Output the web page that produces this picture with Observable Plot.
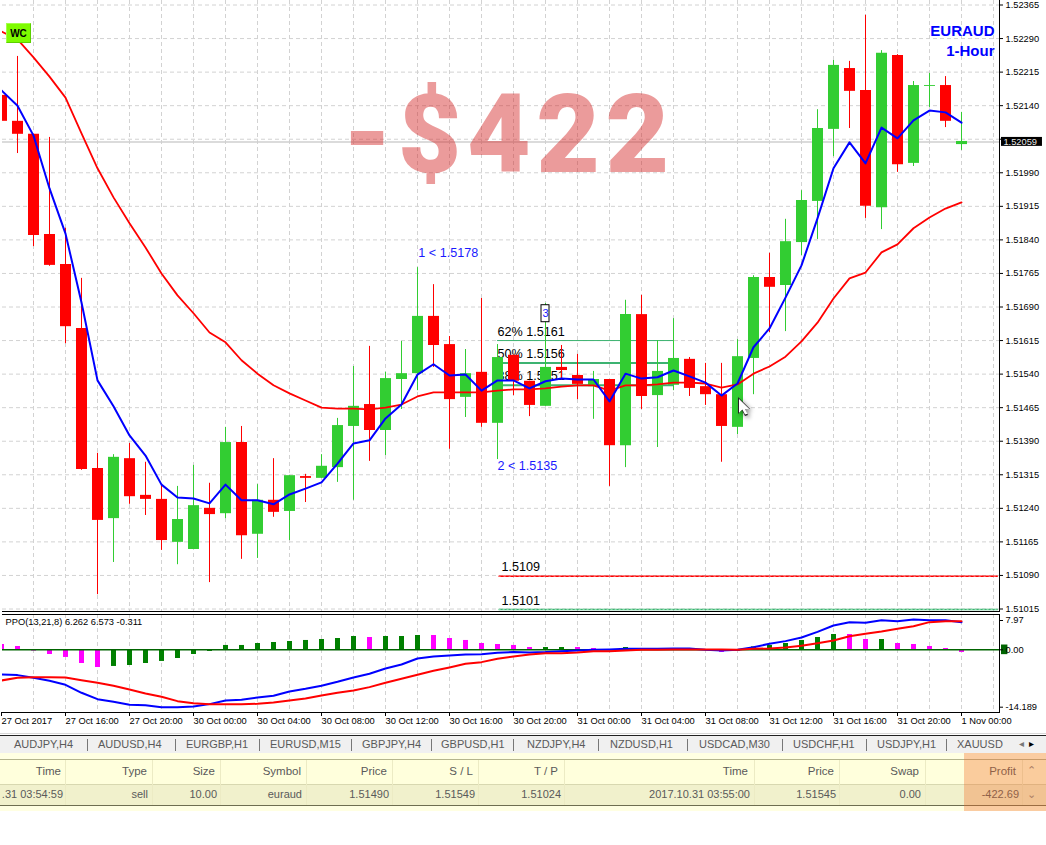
<!DOCTYPE html>
<html><head><meta charset="utf-8">
<script src="https://cdn.jsdelivr.net/npm/d3@7"></script>
<script src="https://cdn.jsdelivr.net/npm/@observablehq/plot@0.6"></script>
<style>
html,body{margin:0;padding:0;background:#fff;}
#page{position:relative;width:1046px;height:845px;overflow:hidden;font-family:"Liberation Sans",sans-serif;}
#page svg{display:block;background:transparent;overflow:visible;}
.abs{position:absolute;white-space:nowrap;}
.loss text{letter-spacing:5.5px;}
</style></head><body><div id="page">
<div id="main"></div><div id="ind"></div>
</div>
<script>
const open=[1.52163,1.52105,1.52076,1.51852,1.51785,1.51642,1.51329,1.51217,1.51351,1.51269,1.51260,1.51164,1.51148,1.51240,1.51228,1.51387,1.51182,1.51258,1.51233,1.51311,1.51307,1.51331,1.51423,1.51472,1.51414,1.51528,1.51541,1.51669,1.51606,1.51488,1.51544,1.51430,1.51582,1.51524,1.51468,1.51555,1.51537,1.51512,1.51528,1.51380,1.51673,1.51492,1.51515,1.51573,1.51512,1.51494,1.51421,1.51575,1.51756,1.51738,1.51834,1.51926,1.52087,1.52223,1.52174,1.51912,1.52252,1.52011,1.52183,1.52185,1.52053];
const close=[1.52105,1.52076,1.51850,1.51783,1.51646,1.51327,1.51213,1.51354,1.51266,1.51260,1.51168,1.51215,1.51246,1.51226,1.51387,1.51179,1.51258,1.51231,1.51313,1.51307,1.51334,1.51425,1.51468,1.51414,1.51530,1.51541,1.51669,1.51604,1.51483,1.51541,1.51430,1.51577,1.51524,1.51470,1.51555,1.51548,1.51517,1.51528,1.51380,1.51673,1.51490,1.51546,1.51575,1.51508,1.51494,1.51423,1.51579,1.51756,1.51734,1.51836,1.51928,1.52089,1.52230,1.52172,1.51915,1.52257,1.52008,1.52185,1.52185,1.52105,1.52060];
const high=[1.52163,1.52250,1.52076,1.52069,1.51866,1.51754,1.51363,1.51360,1.51385,1.51343,1.51291,1.51289,1.51336,1.51296,1.51421,1.51423,1.51293,1.51351,1.51313,1.51316,1.51360,1.51441,1.51557,1.51602,1.51544,1.51613,1.51778,1.51740,1.51624,1.51595,1.51709,1.51606,1.51582,1.51524,1.51698,1.51604,1.51584,1.51546,1.51528,1.51705,1.51716,1.51615,1.51664,1.51577,1.51564,1.51564,1.51617,1.51760,1.51810,1.51886,1.51950,1.52131,1.52241,1.52239,1.52342,1.52263,1.52254,1.52194,1.52212,1.52205,1.52125];
const low=[1.52105,1.52033,1.51825,1.51781,1.51608,1.51325,1.51047,1.51119,1.51249,1.51224,1.51146,1.51114,1.51148,1.51074,1.51217,1.51126,1.51128,1.51220,1.51168,1.51253,1.51307,1.51298,1.51258,1.51345,1.51358,1.51461,1.51503,1.51555,1.51372,1.51443,1.51421,1.51349,1.51492,1.51445,1.51468,1.51526,1.51483,1.51439,1.51289,1.51331,1.51461,1.51376,1.51503,1.51490,1.51470,1.51343,1.51405,1.51494,1.51633,1.51635,1.51805,1.51841,1.52026,1.52089,1.51888,1.51863,1.51991,1.52004,1.52136,1.52091,1.52040];
const fastMA=[1.52174,1.52140,1.52073,1.51955,1.51854,1.51700,1.51526,1.51468,1.51403,1.51358,1.51293,1.51264,1.51262,1.51251,1.51293,1.51258,1.51258,1.51249,1.51271,1.51284,1.51298,1.51340,1.51385,1.51392,1.51441,1.51472,1.51539,1.51562,1.51537,1.51539,1.51503,1.51526,1.51526,1.51508,1.51524,1.51530,1.51528,1.51528,1.51479,1.51541,1.51530,1.51533,1.51548,1.51535,1.51521,1.51492,1.51519,1.51600,1.51642,1.51711,1.51783,1.51888,1.52000,1.52058,1.52011,1.52091,1.52067,1.52107,1.52129,1.52125,1.52102];
const slowMA=[1.52306,1.52288,1.52248,1.52205,1.52158,1.52078,1.52000,1.51935,1.51877,1.51823,1.51765,1.51716,1.51676,1.51633,1.51611,1.51571,1.51541,1.51515,1.51497,1.51481,1.51465,1.51463,1.51463,1.51461,1.51465,1.51472,1.51490,1.51499,1.51499,1.51499,1.51499,1.51503,1.51506,1.51506,1.51508,1.51512,1.51515,1.51515,1.51503,1.51515,1.51515,1.51517,1.51521,1.51521,1.51519,1.51510,1.51517,1.51541,1.51557,1.51579,1.51613,1.51655,1.51709,1.51754,1.51767,1.51812,1.51830,1.51866,1.51890,1.51910,1.51924];
const ppoHist=[1.45,0.9,-0.33,-1.16,-1.89,-3.38,-4.37,-4.12,-3.88,-3.38,-2.88,-2.15,-1.16,-0.41,1.18,1.18,1.72,1.99,2.26,2.54,2.81,3.08,3.62,3.35,3.62,3.62,3.89,3.89,3.08,2.54,1.72,1.45,1.18,0.63,0.63,0.63,0.63,0.36,-0.1,0.63,0.36,0.36,0.2,0.1,-0.1,-0.66,-0.33,0.8,1.18,1.72,2.54,3.35,4.17,4.17,2.81,2.81,1.72,1.45,0.9,0.36,-0.66];
const histMagenta=[0,1,2,3,4,5,6,23,27,28,29,30,31,32,33,36,37,38,40,44,45,53,54,56,57,58,59,60];
const ppoLine=[-6.10,-6.26,-6.93,-7.66,-8.65,-10.63,-12.20,-12.86,-13.60,-13.69,-14.18,-14.18,-14.01,-13.43,-12.53,-12.37,-11.78,-11.38,-10.30,-9.65,-8.90,-7.92,-6.84,-5.93,-4.61,-3.63,-2.15,-1.65,-1.40,-1.16,-1.07,-0.75,-0.57,-0.66,-0.57,-0.33,-0.16,0,0.09,0.27,0.27,0.27,0.36,0.36,0,-0.16,0,0.72,1.63,2.36,3.35,4.89,6.61,7.52,7.34,8.06,7.79,8.24,8.06,8.06,7.52];
const ppoSignal=[-7.58,-6.93,-6.76,-6.76,-6.84,-7.50,-8.16,-8.90,-9.81,-10.80,-11.62,-12.69,-13.19,-13.43,-13.43,-13.43,-13.35,-13.02,-12.53,-12.03,-11.29,-10.63,-10.06,-9.23,-8.16,-7.17,-6.18,-5.20,-4.37,-3.46,-3.05,-2.23,-1.65,-1.16,-0.83,-0.83,-0.66,-0.33,-0.33,-0.16,0,0,0.09,0.09,0.09,0.09,0,0.27,0.36,0.63,1.09,1.81,2.54,3.71,4.35,4.98,5.71,6.43,7.52,7.79,7.79];
const priceTicks=[1.52365,1.52290,1.52215,1.52140,1.52065,1.51990,1.51915,1.51840,1.51765,1.51690,1.51615,1.51540,1.51465,1.51390,1.51315,1.51240,1.51165,1.51090,1.51015];
const gridBars=[2,4,6,8,10,12,14,16,18,20,22,24,26,28,30,32,34,36,38,40,42,44,46,48,50,52,54,56,58,60,62];
const timeBars=[0,4,8,12,16,20,24,28,32,36,40,44,48,52,56,60];
const timeLabels=["27 Oct 2017","27 Oct 16:00","27 Oct 20:00","30 Oct 00:00","30 Oct 04:00","30 Oct 08:00","30 Oct 12:00","30 Oct 16:00","30 Oct 20:00","31 Oct 00:00","31 Oct 04:00","31 Oct 08:00","31 Oct 12:00","31 Oct 16:00","31 Oct 20:00","1 Nov 00:00"];
const ppoTicks=[7.97,0,-14.189];
const lastPrice=1.52059;
const fibLevels=[1.51615,1.51565,1.51515];
const fibWidths=[1,2,2];
const fibLabels=["62% 1.5161","50% 1.5156","38% 1.5151"];
const fibLabelPrices=[1.51635,1.51584,1.51537];
const stopLines=[1.51088,1.51014];
const stopLabels=["1.5109","1.5101"];
const stopLabelPrices=[1.51108,1.51034];
const tabs=["AUDJPY,H4","AUDUSD,H4","EURGBP,H1","EURUSD,M15","GBPJPY,H4","GBPUSD,H1","NZDJPY,H4","NZDUSD,H1","USDCAD,M30","USDCHF,H1","USDJPY,H1","XAUUSD."];
const headers=["Time","Type","Size","Symbol","Price","S / L","T / P","Time","Price","Swap","Profit"];
const row=[".31 03:54:59","sell","10.00","euraud","1.51490","1.51549","1.51024","2017.10.31 03:55:00","1.51545","0.00","-422.69"];

const candles=open.map((o,k)=>({i:k,o,c:close[k],h:high[k],l:low[k]}));
const RED="#ff0000",GREEN="#32cd32",FIB="#3cb371",GRID="#d2d2d2";
const bars=open.map((_,k)=>k);
const upC=candles.filter(d=>d.c>=d.o),dnC=candles.filter(d=>d.c<d.o);
const FONT="'Liberation Sans',sans-serif";

const main=Plot.plot({
  width:1046,height:612,marginLeft:2,marginRight:47,marginTop:0,marginBottom:1,
  style:{fontFamily:FONT,fontSize:"9.3px",background:"transparent",color:"#000",overflow:"visible"},
  x:{type:"linear",domain:[0,60],range:[1,961],axis:null},
  y:{type:"linear",domain:[1.52365,1.51015],range:[4.5,608.5],axis:null},
  marks:[
    Plot.ruleY(priceTicks,{stroke:GRID,strokeDasharray:"4,3",strokeWidth:1}),
    Plot.ruleX(gridBars,{stroke:GRID,strokeDasharray:"4,3",strokeWidth:1}),
    Plot.ruleY([lastPrice],{stroke:"#cfcfcf",strokeWidth:1.5}),
    Plot.ruleY(fibLevels,{x1:31,x2:42,stroke:FIB,strokeWidth:(_,k)=>fibWidths[k]}),
    Plot.text(fibLabels,{x:()=>31,y:(_,k)=>fibLabelPrices[k],text:d=>d,textAnchor:"start",fontSize:12.6,fill:"#000"}),
    Plot.ruleY([stopLines[0]],{x1:31.1,x2:62.3,stroke:RED,strokeWidth:1.5,clip:true}),
    Plot.ruleY([stopLines[0]],{x1:31.1,x2:62.3,stroke:"#ff7070",strokeWidth:1,strokeDasharray:"2,3",clip:true}),
    Plot.ruleY([stopLines[1]],{x1:31.1,x2:62.3,stroke:FIB,strokeWidth:1.5,clip:true}),
    Plot.ruleY([stopLines[1]],{x1:31.1,x2:62.3,stroke:"#8fdcb0",strokeWidth:1,strokeDasharray:"2,2",clip:true}),
    Plot.text(stopLabels,{x:()=>31.25,y:(_,k)=>stopLabelPrices[k],text:d=>d,textAnchor:"start",fontSize:12.6,fill:"#000"}),
    Plot.ruleX(upC,{x:"i",y1:"l",y2:"h",stroke:GREEN,strokeWidth:1,clip:true}),
    Plot.ruleX(dnC,{x:"i",y1:"l",y2:"h",stroke:RED,strokeWidth:1,clip:true}),
    Plot.ruleX(upC,{x:"i",y1:"o",y2:"c",stroke:GREEN,strokeWidth:11,clip:true}),
    Plot.ruleX(dnC,{x:"i",y1:"o",y2:"c",stroke:RED,strokeWidth:11,clip:true}),
    Plot.line(bars,{x:d=>d,y:d=>slowMA[d],stroke:RED,strokeWidth:1.8,clip:true}),
    Plot.line(bars,{x:d=>d,y:d=>fastMA[d],stroke:"#0000ff",strokeWidth:2,clip:true}),
    Plot.text(["1 < 1.5178"],{x:()=>26.05,y:()=>1.51810,text:d=>d,textAnchor:"start",fontSize:12.6,fill:"#1a1aff"}),
    Plot.text(["2 < 1.5135"],{x:()=>31,y:()=>1.51334,text:d=>d,textAnchor:"start",fontSize:12.6,fill:"#1a1aff"}),
    Plot.rect(["box"],{x1:()=>33.75,x2:()=>34.25,y1:()=>1.51694,y2:()=>1.51656,fill:"#fff",stroke:"#000",strokeWidth:1}),
    Plot.text(["3"],{x:()=>34,y:()=>1.51675,text:d=>d,fontSize:11,fill:"#1a1aff"}),
    Plot.text(["-$422"],{x:()=>31.7,y:()=>1.52071,text:d=>d,fontSize:110,fontWeight:900,fontFamily:"Roboto",fill:"#d42a2a",fillOpacity:.47,className:"loss"}),
    Plot.text(["EURAUD\n1-Hour"],{frameAnchor:"top-right",dx:-5,dy:22,text:d=>d,textAnchor:"end",lineAnchor:"top",lineHeight:1.3,fontSize:15,fontWeight:700,fill:"#0000ff"}),
    Plot.axisY(priceTicks,{anchor:"right",tickSize:3,tickPadding:3,tickFormat:d=>d===1.52065?"":d3.format(".5f")(d),label:null,stroke:"#000"}),
    Plot.frame({anchor:"right",stroke:"#000"}),
    Plot.frame({anchor:"bottom",stroke:"#000"}),
    Plot.rect(["last"],{x1:()=>62.5,x2:()=>65.06,y1:()=>1.52069,y2:()=>1.52049,fill:"#000"}),
    Plot.text([lastPrice],{x:()=>62.62,y:d=>d,text:d=>d.toFixed(5),textAnchor:"start",fill:"#e8e8e8"})
  ]});
document.getElementById("main").append(main);

const ind=Plot.plot({
  width:1046,height:124,marginLeft:2,marginRight:47,marginTop:2,marginBottom:24,
  style:{fontFamily:FONT,fontSize:"9.3px",background:"transparent",color:"#000",overflow:"visible"},
  x:{type:"linear",domain:[0,60],range:[1,961],axis:null},
  y:{type:"linear",domain:[7.97,0,-14.189],range:[8,37.3,94.7],axis:null},
  marks:[
    Plot.ruleX(gridBars,{stroke:GRID,strokeDasharray:"4,3",strokeWidth:1}),
    Plot.ruleX(bars,{x:d=>d,y1:0,y2:d=>ppoHist[d],stroke:d=>histMagenta.includes(d)?"#ff00ff":"#008000",strokeWidth:5,clip:true}),
    Plot.ruleY([0],{stroke:"#006400",strokeWidth:1.5}),
    Plot.line(bars,{x:d=>d,y:d=>ppoLine[d],stroke:"#0000ff",strokeWidth:2,clip:true}),
    Plot.line(bars,{x:d=>d,y:d=>ppoSignal[d],stroke:RED,strokeWidth:2,clip:true}),
    Plot.text(["PPO(13,21,8) 6.262 6.573 -0.311"],{frameAnchor:"top-left",dx:3,dy:4,text:d=>d,textAnchor:"start",lineAnchor:"top",fill:"#000"}),
    Plot.rect(["zero"],{x1:()=>62.5,x2:()=>62.9,y1:()=>1.3,y2:()=>-1.2,fill:"#006400"}),
    Plot.axisY(ppoTicks,{anchor:"right",tickSize:3,tickPadding:3,tickFormat:d=>d===7.97?"7.97":d===0?"0.00":"-14.189",label:null,stroke:"#000"}),
    Plot.axisX(timeBars,{anchor:"bottom",tickSize:4,tickPadding:1,textAnchor:"start",tickFormat:d=>timeLabels[timeBars.indexOf(d)],label:null,stroke:"#000"}),
    Plot.frame({anchor:"right",stroke:"#000"}),
    Plot.frame({anchor:"top",stroke:"#000"}),
    Plot.frame({anchor:"bottom",stroke:"#000"})
  ]});
document.getElementById("ind").append(ind);

// Window chrome below the chart
const page=document.getElementById("page");
function box(l,t,w,h,bg){const e=document.createElement("div");e.className="abs";e.style.cssText+=`left:${l}px;top:${t}px;width:${w}px;height:${h}px;background:${bg};`;page.append(e);return e;}
function txt(s,l,t,size,color,right){const e=document.createElement("div");e.className="abs";e.textContent=s;
  e.style.cssText+=`top:${t}px;font-size:${size}px;line-height:${size+4}px;color:${color};`+(right?`right:${1046-right}px;`:`left:${l}px;`);page.append(e);return e;}
box(0,733,1046,1,"#d8d8d8");box(0,735,1046,1,"#222");box(0,736,1046,17,"#f0f0f0");
const tabX=[14,98,186,270,362,441,527,610,699,793,877,957],sepX=[87,175,259,351,431,513,598,687,782,866,946];
tabs.forEach((t,k)=>txt(t,tabX[k],737,11,"#5a5a5a"));
sepX.forEach(x=>box(x,739,1,12,"#777"));
box(1003,736,43,17,"#f0f0f0");
txt("◂",1019,737,10,"#777");txt("▸",1029,737,10,"#000");
box(0,753,1046,58,"#ffffe2");
box(0,759,1046,1,"#b4b48c");box(0,760,1046,24,"#ffffdc");box(0,784,1046,21,"#f1f1cc");box(0,784,1046,1,"#d8d8b0");box(0,805,1046,1,"#6e6e50");
[65,152,220,306,392,478,564,754,839,925,1022].forEach(x=>box(x,760,1,45,"#ecebc4"));
const hdrR=[61,147,215,301,387,473,558,748,834,919,1016],rowR=[63,148,217,302,389,475,561,750,836,921,1019];
headers.forEach((t,k)=>txt(t,0,764,11.5,"#5a5a5a",hdrR[k]));
row.forEach((t,k)=>txt(t,0,787,11,"#5a5a5a",rowR[k]));
txt("⌃",1027,763,11,"#888");txt("⌄",1027,787,11,"#888");
box(964,753,82,58,"rgba(240,110,40,.35)");
// WC badge
const wc=txt("WC",0,0,10,"#000");wc.style.cssText+="left:6px;top:23px;width:25px;height:20px;line-height:20px;text-align:center;font-weight:700;box-sizing:border-box;background:#7dfb00;border:1px solid;border-color:#a4ff4a #5cd000 #5cd000 #a4ff4a;";
// Mouse pointer
const cur=box(738,397,14,22,"transparent");cur.style.filter="drop-shadow(2px 2px 2px rgba(0,0,0,.45))";
const arrow="polygon(0 0,0 77%,28% 59%,50% 86%,71% 82%,50% 55%,86% 55%)";
const c1=document.createElement("div");c1.style.cssText=`position:absolute;inset:0;background:#222;clip-path:${arrow};`;cur.append(c1);
const c2=document.createElement("div");c2.style.cssText=`position:absolute;left:1px;top:2px;width:12px;height:18px;background:#fff;clip-path:${arrow};`;cur.append(c2);
</script></body></html>
